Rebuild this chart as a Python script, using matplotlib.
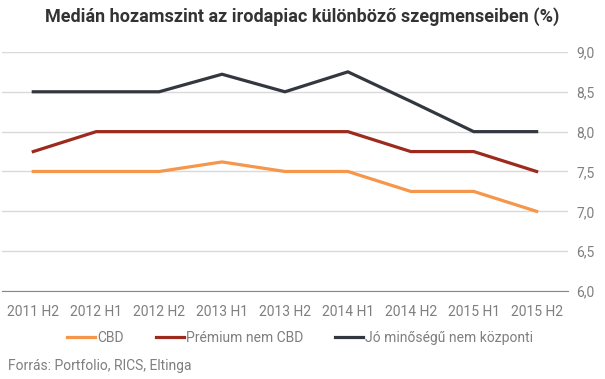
import matplotlib
matplotlib.use("Agg")
import matplotlib.pyplot as plt

periods = ["2011 H2", "2012 H1", "2012 H2", "2013 H1", "2013 H2",
           "2014 H1", "2014 H2", "2015 H1", "2015 H2"]
cbd = [7.5, 7.5, 7.5, 7.62, 7.5, 7.5, 7.25, 7.25, 7.0]
premium = [7.75, 8.0, 8.0, 8.0, 8.0, 8.0, 7.75, 7.75, 7.5]
jo = [8.5, 8.5, 8.5, 8.72, 8.5, 8.75, 8.38, 8.0, 8.0]
y_ticks = [6.0, 6.5, 7.0, 7.5, 8.0, 8.5, 9.0]

series = [("CBD", cbd, "#f5964a"),
          ("Prémium nem CBD", premium, "#9c2b1e"),
          ("Jó minőségű nem központi", jo, "#333840")]

plt.rcParams["font.family"] = ["Roboto", "DejaVu Sans"]
grey = "#7f7f7f"
fs = 10

fig = plt.figure(figsize=(6.05, 3.79), dpi=100)
ax = fig.add_axes([0.003, 0.232, 0.936, 0.631])

x = list(range(len(periods)))
for name, vals, col in series:
    ax.plot(x, vals, color=col, lw=2.3, label=name, solid_joinstyle="miter")

ax.set_xlim(-0.5, len(periods) - 0.5)
ax.set_ylim(6, 9)
ax.set_yticks(y_ticks)
ax.set_yticklabels([f"{v:.1f}".replace(".", ",") for v in y_ticks])
ax.yaxis.tick_right()
ax.set_xticks(x)
ax.set_xticklabels(periods)
ax.tick_params(axis="both", length=0, colors=grey, labelsize=fs)
ax.tick_params(axis="y", pad=6)
ax.tick_params(axis="x", pad=10)
ax.grid(axis="y", color="#d9d9d9", lw=1)
ax.set_axisbelow(True)
for s in ["top", "left", "right"]:
    ax.spines[s].set_visible(False)
ax.spines["bottom"].set_color("#888888")

fig.text(0.5, 0.955, "Medián hozamszint az irodapiac különböző szegmenseiben (%)",
         ha="center", va="center", fontsize=13, fontweight="bold", color="#333333")

leg = fig.legend(loc="center", bbox_to_anchor=(0.496, 0.108), ncol=3, frameon=False,
                 fontsize=fs, handlelength=2.0, handletextpad=0.15, columnspacing=2.3)
for t in leg.get_texts():
    t.set_color(grey)

fig.text(0.013, 0.035, "Forrás: Portfolio, RICS, Eltinga", fontsize=fs, color=grey,
         va="center")

fig.savefig("out.png", dpi=100)
